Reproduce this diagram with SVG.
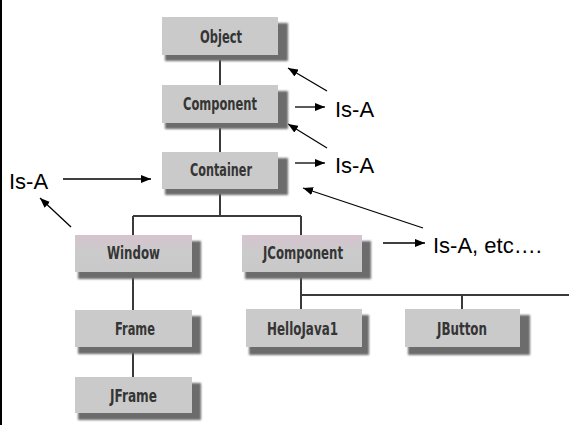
<svg xmlns="http://www.w3.org/2000/svg" width="569" height="425" viewBox="0 0 569 425">
  <defs>
    <marker id="head" viewBox="0 0 10 8" refX="10" refY="4" markerWidth="10" markerHeight="8" markerUnits="userSpaceOnUse" orient="auto">
      <path d="M0,0 L10,4 L0,8 Z" fill="#000"/>
    </marker>
    <linearGradient id="tint" x1="0" y1="0" x2="0" y2="1">
      <stop offset="0" stop-color="#d6c3cf"/>
      <stop offset="0.45" stop-color="#cbcbcb"/>
      <stop offset="1" stop-color="#c9c9c9"/>
    </linearGradient>
    <filter id="soft" x="-10%" y="-20%" width="120%" height="140%">
      <feGaussianBlur stdDeviation="0.9"/>
    </filter>
  </defs>
  <style>
    .box { fill: #cacaca; }
    .box.tinted { fill: url(#tint); }
    .shadow { fill: #6c6c6c; filter: url(#soft); }
    .name { font-family: "DejaVu Sans", "Liberation Sans", sans-serif; font-weight: bold; font-stretch: condensed; font-size: 17.5px; fill: #353535; text-anchor: middle; }
    .tree { stroke: #3a3a3a; stroke-width: 2; fill: none; }
    .arrow { stroke: #000; stroke-width: 1.3; fill: none; marker-end: url(#head); }
    .label { font-family: "Liberation Sans", Arial, sans-serif; font-size: 22px; fill: #000; }
  </style>

  <rect x="0" y="0" width="569" height="425" fill="#fff"/>
  <rect x="0" y="0" width="2" height="425" fill="#000"/>

  <!-- class tree lines and Is-A pointers -->
  <g id="connectors">
    <path class="tree" d="M220,60 V85 M220,128 V152 M220,194 V216 M133,216 H301 M133,216 V235 M301,216 V235 M133,277 V310 M133,352 V377 M301,277 V309 M301,295 H569 M462,295 V309"/>
    <line class="arrow" x1="327" y1="91" x2="288" y2="68"/>
    <line class="arrow" x1="295" y1="107" x2="325" y2="107"/>
    <line class="arrow" x1="327" y1="148" x2="288" y2="124"/>
    <line class="arrow" x1="295" y1="163" x2="325" y2="163"/>
    <line class="arrow" x1="423" y1="228" x2="303" y2="188"/>
    <line class="arrow" x1="383" y1="243" x2="425" y2="243"/>
    <line class="arrow" x1="63" y1="179" x2="151" y2="179"/>
    <line class="arrow" x1="71" y1="227" x2="40" y2="198"/>
  </g>

  <g id="object">
    <rect class="shadow" x="165" y="23" width="123" height="38"/>
    <rect class="box" x="162" y="17" width="116" height="38"/>
    <text class="name" x="221" y="43" textLength="42" lengthAdjust="spacingAndGlyphs">Object</text>
  </g>
  <g id="component">
    <rect class="shadow" x="165" y="91" width="123" height="38"/>
    <rect class="box" x="162" y="85" width="116" height="38"/>
    <text class="name" x="220" y="110" textLength="74" lengthAdjust="spacingAndGlyphs">Component</text>
  </g>
  <g id="container">
    <rect class="shadow" x="165" y="158" width="123" height="37"/>
    <rect class="box" x="162" y="152" width="116" height="37"/>
    <text class="name" x="221" y="176" textLength="62" lengthAdjust="spacingAndGlyphs">Container</text>
  </g>
  <g id="window">
    <rect class="shadow" x="78" y="241" width="123" height="38"/>
    <rect class="box tinted" x="75" y="235" width="117" height="37"/>
    <text class="name" x="133.5" y="259" textLength="53" lengthAdjust="spacingAndGlyphs">Window</text>
  </g>
  <g id="jcomponent">
    <rect class="shadow" x="245" y="241" width="126" height="38"/>
    <rect class="box tinted" x="242" y="235" width="120" height="37"/>
    <text class="name" x="303" y="259" textLength="80" lengthAdjust="spacingAndGlyphs">JComponent</text>
  </g>
  <g id="frame">
    <rect class="shadow" x="78" y="316" width="123" height="38"/>
    <rect class="box" x="75" y="310" width="117" height="37"/>
    <text class="name" x="135" y="335" textLength="40" lengthAdjust="spacingAndGlyphs">Frame</text>
  </g>
  <g id="jframe">
    <rect class="shadow" x="78" y="383" width="123" height="37"/>
    <rect class="box" x="75" y="377" width="117" height="36"/>
    <text class="name" x="133.5" y="402" textLength="47" lengthAdjust="spacingAndGlyphs">JFrame</text>
  </g>
  <g id="hellojava1">
    <rect class="shadow" x="249" y="315" width="120" height="40"/>
    <rect class="box" x="246" y="309" width="116" height="38"/>
    <text class="name" x="302.5" y="335" textLength="71" lengthAdjust="spacingAndGlyphs">HelloJava1</text>
  </g>
  <g id="jbutton">
    <rect class="shadow" x="408" y="315" width="122" height="40"/>
    <rect class="box" x="405" y="309" width="115" height="38"/>
    <text class="name" x="462" y="335" textLength="50" lengthAdjust="spacingAndGlyphs">JButton</text>
  </g>

  <g id="labels">
    <text class="label" x="335" y="117">Is-A</text>
    <text class="label" x="335" y="173">Is-A</text>
    <text class="label" x="433" y="253">Is-A, etc….</text>
    <text class="label" x="9" y="189">Is-A</text>
  </g>
</svg>
